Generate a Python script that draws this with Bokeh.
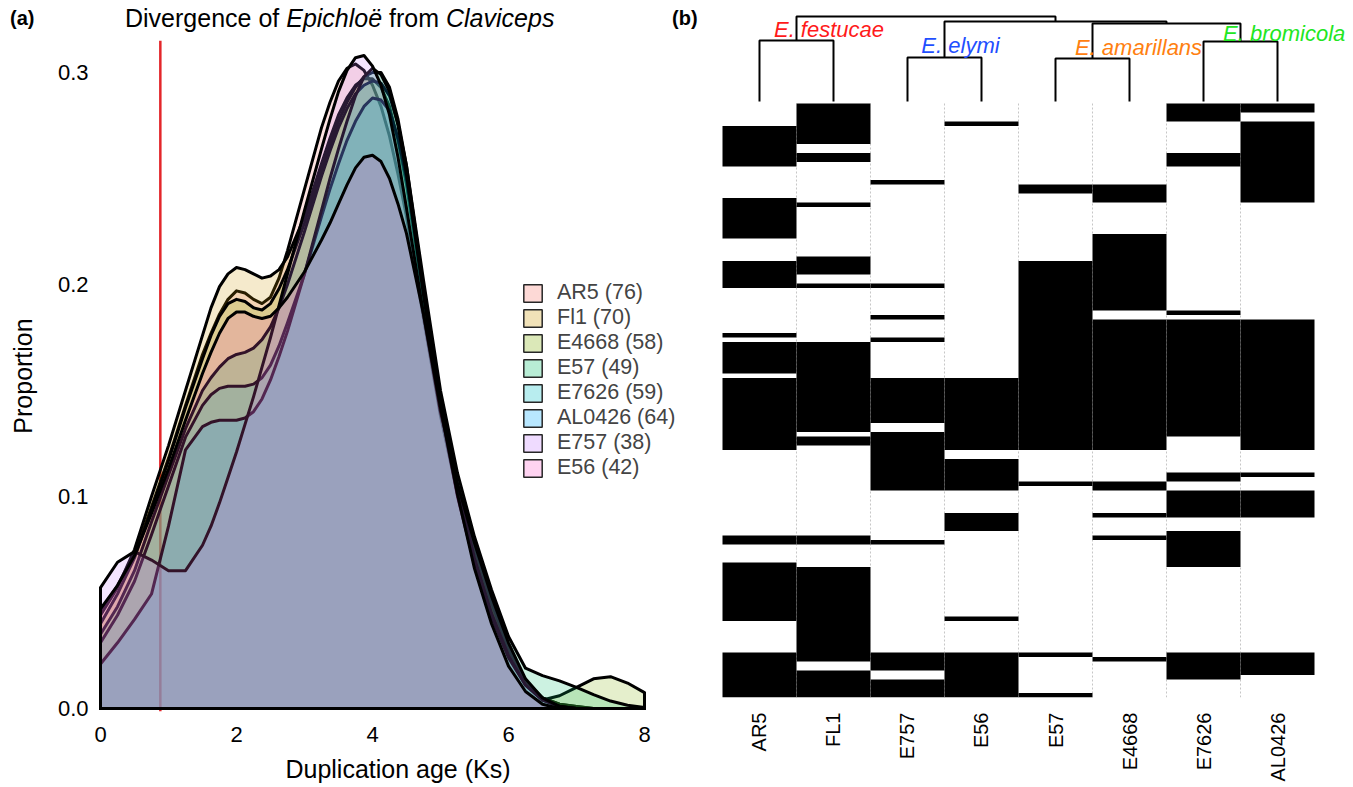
import math
from bokeh.plotting import figure
from bokeh.layouts import row, column
from bokeh.models import (Range1d, FixedTicker, PrintfTickFormatter, Legend, LegendItem,
                          Label, Span, ColumnDataSource, Div)
from bokeh.embed import file_html
from bokeh.resources import INLINE

FONT = "Liberation Sans"

# ---------------- panel (a): density of duplication ages ----------------
ks = [0.0, 0.25, 0.5, 0.75, 1.0, 1.25, 1.5,
      1.625, 1.75, 1.875, 2.0, 2.125, 2.25, 2.375, 2.5, 2.625, 2.75,
      3.0, 3.25,
      3.375, 3.5, 3.625, 3.75, 3.875, 4.0, 4.125, 4.25, 4.375, 4.5,
      4.75, 5.0, 5.25, 5.5, 5.75, 6.0, 6.25, 6.5, 6.75, 7.0, 7.25, 7.5, 7.75, 8.0]

ar5 = [0.046, 0.058, 0.073, 0.095, 0.118, 0.143, 0.167,
       0.177, 0.186, 0.193, 0.197, 0.196, 0.193, 0.191, 0.194, 0.203, 0.216,
       0.245, 0.274,
       0.286, 0.296, 0.302, 0.304, 0.301, 0.294, 0.284, 0.270, 0.252, 0.232,
       0.184, 0.138, 0.101, 0.071, 0.046, 0.026, 0.012, 0.005, 0.002, 0.001, 0, 0, 0, 0]
fl1 = [0.044, 0.057, 0.075, 0.100, 0.124, 0.150, 0.176,
       0.189, 0.199, 0.205, 0.208, 0.207, 0.205, 0.203, 0.204, 0.207, 0.213,
       0.232, 0.257,
       0.269, 0.280, 0.288, 0.294, 0.297, 0.297, 0.293, 0.284, 0.268, 0.247,
       0.193, 0.142, 0.104, 0.075, 0.049, 0.028, 0.013, 0.005, 0.002, 0.001, 0, 0, 0, 0]
e4668 = [0.040, 0.054, 0.071, 0.094, 0.117, 0.142, 0.165,
         0.176, 0.185, 0.191, 0.193, 0.192, 0.189, 0.188, 0.191, 0.198, 0.207,
         0.229, 0.254,
         0.266, 0.277, 0.286, 0.293, 0.298, 0.300, 0.300, 0.293, 0.278, 0.256,
         0.199, 0.146, 0.106, 0.076, 0.050, 0.028, 0.013, 0.004, 0.006, 0.010, 0.014, 0.015, 0.012, 0.0075]
e57 = [0.035, 0.048, 0.065, 0.088, 0.110, 0.132, 0.150,
       0.156, 0.161, 0.165, 0.167, 0.168, 0.170, 0.174, 0.180, 0.189, 0.200,
       0.225, 0.251,
       0.263, 0.274, 0.283, 0.290, 0.294, 0.296, 0.295, 0.289, 0.276, 0.256,
       0.202, 0.150, 0.111, 0.081, 0.056, 0.034, 0.019, 0.0155, 0.013, 0.010, 0.0065, 0.0035, 0.0015, 0.0005]
e7626 = [0.031, 0.044, 0.060, 0.082, 0.105, 0.128, 0.143,
         0.148, 0.151, 0.152, 0.152, 0.152, 0.153, 0.156, 0.162, 0.171, 0.182,
         0.205, 0.232,
         0.245, 0.257, 0.268, 0.277, 0.284, 0.288, 0.287, 0.282, 0.269, 0.250,
         0.198, 0.146, 0.104, 0.071, 0.045, 0.025, 0.011, 0.004, 0.001, 0, 0, 0, 0, 0]
al0426 = [0.021, 0.031, 0.042, 0.054, 0.086, 0.122, 0.133,
          0.135, 0.136, 0.136, 0.136, 0.137, 0.140, 0.146, 0.155, 0.166, 0.178,
          0.205, 0.235,
          0.250, 0.264, 0.277, 0.289, 0.298, 0.302, 0.299, 0.291, 0.275, 0.252,
          0.195, 0.142, 0.100, 0.068, 0.043, 0.024, 0.011, 0.004, 0.001, 0, 0, 0, 0, 0]
e757 = [0.057, 0.069, 0.074, 0.070, 0.065, 0.065, 0.077,
        0.086, 0.097, 0.109, 0.121, 0.134, 0.147, 0.161, 0.175, 0.190, 0.205,
        0.235, 0.264,
        0.278, 0.291, 0.301, 0.307, 0.308, 0.303, 0.294, 0.280, 0.260, 0.236,
        0.186, 0.140, 0.106, 0.078, 0.053, 0.031, 0.014, 0.005, 0.001, 0, 0, 0, 0, 0]
e56 = [0.047, 0.058, 0.072, 0.092, 0.113, 0.136, 0.158,
       0.168, 0.177, 0.184, 0.187, 0.187, 0.185, 0.184, 0.185, 0.189, 0.194,
       0.206, 0.221,
       0.229, 0.238, 0.247, 0.255, 0.260, 0.261, 0.258, 0.250, 0.238, 0.224,
       0.186, 0.142, 0.101, 0.066, 0.040, 0.020, 0.008, 0.002, 0, 0, 0, 0, 0, 0]

series_names = ["AR5", "Fl1", "E4668", "E57", "E7626", "AL0426", "E757", "E56"]
series_counts = [76, 70, 58, 49, 59, 64, 38, 42]
series_values = [ar5, fl1, e4668, e57, e7626, al0426, e757, e56]
series_colors = ["#F8766D", "#CD9600", "#7CAE00", "#00BE67",
                 "#00BFC4", "#00A9FF", "#C77CFF", "#FF61CC"]

divergence_ks = 0.88
y_ticks = [0.0, 0.1, 0.2, 0.3]
x_ticks = [0, 2, 4, 6, 8]

# header strip: panel letters and the mixed-style title (real HTML text)
head_html = (
    '<div style="position:relative;width:698px;height:40px;'
    'font-family:\'Liberation Sans\',Arial,sans-serif;color:#000;">'
    '<span style="position:absolute;left:10px;top:8px;font-size:20px;font-weight:bold;'
    'line-height:20px;white-space:nowrap;">(a)</span>'
    '<span style="position:absolute;left:125px;top:8px;font-size:25px;line-height:20px;'
    'white-space:nowrap;">Divergence of <i>Epichlo\u00eb</i> from <i>Claviceps</i></span>'
    '<span style="position:absolute;left:672px;top:8px;font-size:20px;font-weight:bold;'
    'line-height:20px;white-space:nowrap;">(b)</span>'
    '</div>')
head = Div(text=head_html, width=698, height=40, margin=(0, 0, 0, 0),
           styles={"overflow": "visible"})

pA = figure(width=698, height=746, title=None,
            x_range=Range1d(-0.0441, 8.794), y_range=Range1d(-0.00142, 0.3151),
            output_backend="svg", toolbar_location=None,
            min_border_left=97, min_border_right=0, min_border_top=0, min_border_bottom=75)
pA.outline_line_color = None
pA.grid.visible = False

pA.add_layout(Span(location=divergence_ks, dimension="height", line_color="#E3262A",
                   line_width=2.5, level="underlay"))

for vals, col in zip(series_values, series_colors):
    pA.patch(ks + [ks[-1], ks[0]], vals + [0, 0], fill_color=col, fill_alpha=0.2,
             line_color="black", line_width=3, line_join="round")

# legend keys: hidden copies with a thin outline, as the reference's keys
key_renderers = []
for vals, col in zip(series_values, series_colors):
    r = pA.patch(ks + [ks[-1], ks[0]], vals + [0, 0], fill_color=col, fill_alpha=0.28,
                 line_color="#262626", line_width=1.5)
    r.visible = False
    key_renderers.append(r)
legend = Legend(items=[LegendItem(label=f"{n} ({c})", renderers=[r])
                       for n, c, r in zip(series_names, series_counts, key_renderers)],
                location=(424, 231), glyph_width=23, glyph_height=22, label_height=23,
                spacing=0, padding=0, margin=0, label_standoff=13,
                label_text_font=FONT, label_text_font_size="21.5px",
                border_line_color=None, background_fill_alpha=0,
                inactive_fill_alpha=0)
pA.add_layout(legend)

pA.xaxis.ticker = FixedTicker(ticks=x_ticks)
pA.yaxis.ticker = FixedTicker(ticks=y_ticks)
pA.yaxis.formatter = PrintfTickFormatter(format="%.1f")
pA.xaxis.axis_label = "Duplication age (Ks)"
pA.yaxis.axis_label = "Proportion"
for ax in (pA.xaxis[0], pA.yaxis[0]):
    ax.axis_line_color = None
    ax.major_tick_line_color = None
    ax.minor_tick_line_color = None
    ax.major_tick_out = 0
    ax.major_tick_in = 0
    ax.major_label_text_font = FONT
    ax.major_label_text_font_size = "22px"
    ax.major_label_text_color = "black"
    ax.axis_label_text_font = FONT
    ax.axis_label_text_font_size = "25px"
    ax.axis_label_text_font_style = "normal"
    ax.axis_label_text_color = "black"
pA.xaxis.major_label_standoff = 15
pA.xaxis.axis_label_standoff = 10
pA.yaxis.major_label_standoff = 9
pA.yaxis.axis_label_standoff = 18

# ---------------- panel (b): dendrogram + presence matrix ----------------
strains = ["AR5", "FL1", "E757", "E56", "E57", "E4668", "E7626", "AL0426"]
n_rows = 132
ar5_rows = [(5, 14), (21, 30), (35, 41), (51, 52), (53, 60), (61, 77), (96, 98), (102, 115), (122, 132)]
fl1_rows = [(0, 9), (11, 13), (22, 23), (34, 38), (40, 41), (53, 73), (74, 76), (96, 98), (103, 124), (126, 132)]
e757_rows = [(17, 18), (40, 41), (47, 48), (52, 53), (61, 71), (73, 86), (97, 98), (122, 126), (128, 132)]
e56_rows = [(4, 5), (61, 77), (79, 86), (91, 95), (114, 115), (122, 132)]
e57_rows = [(18, 20), (35, 77), (84, 85), (122, 123), (131, 132)]
e4668_rows = [(18, 22), (29, 46), (48, 77), (84, 86), (91, 92), (96, 97), (123, 124)]
e7626_rows = [(0, 4), (11, 14), (46, 47), (48, 74), (82, 84), (86, 92), (95, 103), (122, 128)]
al0426_rows = [(0, 2), (4, 22), (48, 77), (82, 83), (86, 92), (122, 127)]
presence = [ar5_rows, fl1_rows, e757_rows, e56_rows, e57_rows, e4668_rows, e7626_rows, al0426_rows]

# linkage: (child a, child b, height); leaves 0..7, new nodes numbered from 8
merges = [(0, 1, 61), (2, 3, 44), (4, 5, 43), (6, 7, 60), (10, 11, 78), (9, 12, 80), (8, 13, 85)]

clades = ["E. festucae", "E. elymi", "E. amarillans", "E. bromicola"]
clade_colors = ["#FF1A1A", "#1F4FFF", "#FF8010", "#22E622"]

pB = figure(width=655, height=786, title=None,
            x_range=Range1d(-0.8243, 8.027), y_range=Range1d(n_rows, -22.89),
            output_backend="svg", toolbar_location=None, y_axis_location=None,
            min_border_left=0, min_border_right=0, min_border_top=0, min_border_bottom=89)
pB.extra_y_ranges = {"dendro": Range1d(-596, 101)}
pB.outline_line_color = None
pB.grid.visible = False

left, right, top, bottom = [], [], [], []
for i, spans in enumerate(presence):
    for s, e in spans:
        left.append(i - 0.5)
        right.append(i + 0.5)
        top.append(s)
        bottom.append(e)
pB.quad(source=ColumnDataSource(dict(left=left, right=right, top=top, bottom=bottom)),
        left="left", right="right", top="top", bottom="bottom",
        fill_color="black", line_color=None)

seps = [i + 0.5 for i in range(len(strains) - 1)]
pB.segment(x0=seps, y0=[0] * len(seps), x1=seps, y1=[n_rows] * len(seps),
           line_color="#808080", line_dash="2 2", line_width=1, line_alpha=0.45)

node_x = {i: float(i) for i in range(len(strains))}
node_h = {i: 0.0 for i in range(len(strains))}
xs, ys = [], []
for k, (a, b, h) in enumerate(merges):
    nid = len(strains) + k
    xs.append([node_x[a], node_x[a], node_x[b], node_x[b]])
    ys.append([node_h[a], h, h, node_h[b]])
    node_x[nid] = (node_x[a] + node_x[b]) / 2
    node_h[nid] = h
pB.multi_line(xs, ys, line_color="black", line_width=2, y_range_name="dendro")

clade_anchor = [(0.939, 72.0), (2.716, 56.5), (5.122, 54.0), (7.09, 68.0)]
for name, col, (cx, cy) in zip(clades, clade_colors, clade_anchor):
    pB.add_layout(Label(x=cx, y=cy, y_range_name="dendro", text=name, text_color=col,
                        text_font=FONT, text_font_size="22px", text_font_style="italic",
                        text_align="center", text_baseline="middle"))

pB.xaxis.ticker = FixedTicker(ticks=list(range(len(strains))))
pB.xaxis.major_label_overrides = {i: s for i, s in enumerate(strains)}
pB.xaxis.major_label_orientation = math.pi / 2
pB.xaxis.axis_line_color = None
pB.xaxis.major_tick_line_color = None
pB.xaxis.minor_tick_line_color = None
pB.xaxis.major_tick_out = 0
pB.xaxis.major_tick_in = 0
pB.xaxis.major_label_standoff = 15
pB.xaxis.major_label_text_font = FONT
pB.xaxis.major_label_text_font_size = "20px"
pB.xaxis.major_label_text_color = "black"

layout = row(column(head, pA), pB)
open("out.html", "w").write(file_html(layout, INLINE))
